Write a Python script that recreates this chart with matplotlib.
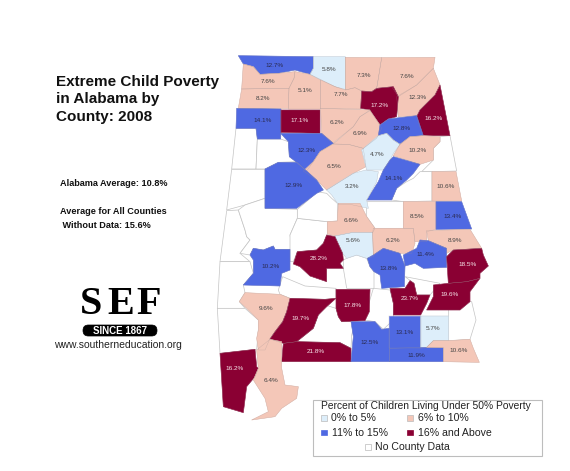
import matplotlib
matplotlib.use("Agg")
import matplotlib.pyplot as plt
from matplotlib.patches import Polygon, Rectangle, FancyBboxPatch

plt.rcParams['font.family'] = ['Liberation Sans', 'DejaVu Sans']

# ---------- data ----------
title_lines = ["Extreme Child Poverty", "in Alabama by", "County: 2008"]
state_average = "Alabama Average: 10.8%"
missing_average = ["Average for All Counties", " Without Data: 15.6%"]
legend_title = "Percent of Children Living Under 50% Poverty"
classes = ["0% to 5%", "6% to 10%", "11% to 15%", "16% and Above", "No County Data"]
class_colors = {0: "#DDEEFA", 1: "#F4C7B8", 2: "#4F69E2", 3: "#8A0033", 4: "#FFFFFF"}
county_labels = ["12.7%", "7.6%", "8.2%", "5.1%", "5.8%", "7.3%", "7.6%", "12.3%", "7.7%", "17.2%",
                 "16.2%", "14.1%", "17.1%", "6.2%", "6.9%", "12.8%", "12.3%", "6.5%", "4.7%", "10.2%",
                 "14.1%", "12.9%", "3.2%", "10.6%",
                 "8.5%", "13.4%", "6.6%", "5.6%", "6.2%", "8.9%", "11.4%", "13.8%", "18.5%", "19.6%",
                 "23.7%", "28.2%", "10.2%",
                 "9.6%", "19.7%", "17.8%", "21.8%", "12.5%", "13.1%", "5.7%", "11.9%", "10.6%", "16.2%", "6.4%"]
county_classes = [2, 1, 1, 1, 0, 1, 1, 1, 1, 3,
                  3, 2, 3, 1, 1, 2, 2, 1, 0, 1,
                  2, 2, 0, 1,
                  1, 2, 1, 0, 1, 1, 2, 2, 3, 3,
                  3, 3, 2,
                  1, 3, 3, 3, 2, 2, 0, 2, 1, 3, 1]

# ---------- map geometry (traced in three zoom frames: origin x, origin y, scale 3) ----------
FRAMES = {"a": (220, 45), "b": (220, 160), "c": (210, 270)}
county_shapes = [
 ("a", [(55,32),(280,35),(280,70),(270,88),(225,75),(175,85),(120,88),(100,65),(70,57)], (165,62)),
 ("a", [(70,57),(100,65),(120,88),(175,85),(225,80),(222,100),(207,130),(65,132)], (145,110)),
 ("a", [(65,132),(207,130),(205,190),(55,190)], (128,162)),
 ("a", [(225,80),(270,88),(302,105),(302,192),(205,192),(207,130),(222,100)], (255,138)),
 ("a", [(280,35),(376,35),(376,133),(345,125),(305,105),(270,88),(280,70)], (328,74)),
 ("a", [(376,37),(485,38),(475,100),(470,130),(455,140),(425,138),(405,128),(376,135)], (432,92)),
 ("a", [(485,38),(645,37),(640,70),(590,120),(535,155),(515,125),(470,130),(475,100)], (560,96)),
 ("a", [(640,70),(660,120),(645,150),(600,195),(590,212),(535,215),(530,155),(590,120)], (592,158)),
 ("a", [(302,105),(345,125),(376,135),(405,128),(425,138),(422,192),(302,190)], (364,150)),
 ("a", [(425,138),(455,140),(470,130),(520,125),(535,155),(530,215),(505,222),(480,240),(450,195),(422,190)], (480,182)),
 ("a", [(660,120),(690,272),(608,272),(590,215),(600,195),(645,150)], (642,222)),
 ("a", [(50,190),(183,192),(183,262),(182,282),(112,282),(108,250),(48,250)], (128,225)),
 ("a", [(183,195),(300,195),(300,265),(183,262)], (240,228)),
 ("a", [(302,190),(450,195),(420,215),(400,245),(350,285),(340,295),(305,265)], (352,231)),
 ("a", [(450,197),(480,240),(485,250),(470,280),(430,310),(385,298),(340,297),(400,245),(420,215)], (420,266)),
 ("a", [(480,240),(505,222),(590,212),(610,272),(570,275),(540,298),(520,285),(500,265),(475,272)], (545,251)),
 ("a", [(182,265),(305,265),(340,295),(300,320),(280,350),(260,378),(230,352),(208,335),(205,290)], (260,316)),
 ("a", [(340,297),(385,298),(430,310),(438,365),(400,385),(320,435),(290,405),(250,378),(280,350),(300,320)], (342,366)),
 ("a", [(475,272),(500,265),(520,285),(540,298),(520,325),(510,345),(490,375),(440,375),(425,315)], (472,330)),
 ("a", [(540,298),(570,275),(610,272),(660,275),(660,290),(640,310),(640,345),(600,358),(520,332)], (592,315)),
 ("a", [(520,335),(600,358),(580,385),(560,405),(530,430),(515,465),(440,465),(475,410),(490,375),(510,345)], (520,400)),
 ("a", [(135,372),(175,352),(230,352),(260,378),(290,405),(310,435),(290,445),(230,490),(135,490)], (222,422)),
 ("a", [(320,435),(400,385),(438,375),(475,380),(470,410),(440,465),(445,490),(390,478),(355,478),(335,450)], (396,426)),
 ("a", [(636,380),(708,380),(725,468),(636,468)], (676,425)),
 ("b", [(550,125),(648,125),(648,208),(620,215),(620,245),(585,245),(580,205),(550,205)], (592,168)),
 ("b", [(648,125),(725,125),(755,207),(648,208)], (698,168)),
 ("b", [(355,130),(420,130),(440,170),(465,205),(458,218),(395,218),(345,228),(322,222),(322,185),(352,183)], (392,180)),
 ("b", [(345,228),(395,218),(458,218),(460,290),(440,295),(410,285),(380,295),(368,280),(350,240)], (400,243)),
 ("b", [(460,205),(580,205),(585,250),(575,280),(540,280),(490,265),(460,285),(458,218)], (520,240)),
 ("b", [(620,212),(750,208),(785,265),(700,270),(680,280),(680,265),(625,242)], (704,240)),
 ("b", [(550,285),(590,265),(600,240),(625,242),(680,265),(680,322),(610,325),(585,310),(555,318)], (615,282)),
 ("b", [(442,295),(460,285),(490,265),(540,280),(555,318),(553,380),(485,385),(480,345),(462,335),(450,320)], (505,326)),
 ("b", [(700,270),(785,265),(790,285),(805,318),(780,340),(780,355),(740,365),(685,370),(680,290)], (742,314)),
 ("b", [(640,375),(685,370),(740,365),(780,355),(750,395),(750,425),(720,450),(620,450),(640,410)], (690,403)),
 ("c", [(540,55),(585,55),(600,32),(612,40),(620,75),(660,75),(650,100),(632,135),(550,135),(550,100)], (598,85)),
 ("b", [(320,225),(345,230),(368,280),(370,300),(360,310),(370,325),(320,325),(320,365),(270,348),(240,320),(220,312),(232,275),(290,270),(310,250)], (295,296)),
 ("b", [(100,265),(130,270),(160,258),(165,268),(210,268),(210,330),(185,340),(180,378),(70,375),(100,340),(100,300),(90,285)], (153,318)),
 ("c", [(105,68),(210,73),(240,85),(230,125),(218,155),(195,185),(180,205),(165,240),(145,240),(140,205),(145,180),(145,150),(110,115),(88,95)], (168,117)),
 ("c", [(240,85),(345,88),(378,85),(350,110),(325,135),(310,175),(260,215),(220,220),(180,207),(195,185),(218,155),(230,125)], (272,146)),
 ("c", [(378,58),(480,58),(478,125),(465,152),(395,155),(385,140),(378,115)], (428,107)),
 ("c", [(220,220),(260,215),(390,218),(423,235),(423,275),(215,275)], (317,245)),
 ("c", [(423,155),(495,155),(515,178),(538,175),(538,275),(423,275),(430,200)], (478,216)),
 ("c", [(538,138),(632,138),(632,235),(538,235)], (584,187)),
 ("c", [(632,138),(716,138),(716,212),(670,212),(650,232),(632,235)], (668,174)),
 ("c", [(538,235),(650,232),(700,233),(700,275),(538,275)], (618,256)),
 ("c", [(650,232),(670,212),(716,212),(780,208),(790,235),(808,277),(700,275),(700,233)], (745,240)),
 ("c", [(30,250),(135,238),(140,290),(145,295),(135,320),(110,350),(100,428),(40,410)], (75,297)),
 ("c", [(180,208),(215,215),(215,275),(215,295),(225,345),(265,350),(260,385),(215,415),(195,440),(125,450),(175,425),(165,385),(130,330),(145,295),(140,240)], (182,330)),
]
no_data_shapes = [
 ("a", [(48,250),(108,250),(112,282),(108,372),(35,372)]),
 ("a", [(112,282),(182,282),(205,290),(208,335),(230,350),(175,352),(135,372),(108,372)]),
 ("a", [(660,275),(690,272),(710,378),(636,380),(605,380),(640,345),(640,310),(660,290)]),
 ("b", [(35,28),(135,28),(135,115),(75,135),(20,150)]),
 ("b", [(20,152),(55,150),(75,210),(80,230),(90,240),(60,280),(90,305),(0,305)]),
 ("c", [(30,-25),(120,-25),(130,10),(100,45),(105,68),(88,95),(105,115),(22,115)]),
 ("b", [(75,135),(135,115),(135,145),(232,148),(232,175),(210,225),(215,260),(210,268),(165,268),(160,258),(130,270),(100,265),(90,285),(60,280),(90,240),(80,230),(75,210),(55,150)]),
 ("b", [(232,175),(322,185),(322,222),(310,250),(290,270),(232,275),(220,305),(210,305),(210,225)]),
 ("b", [(232,148),(265,120),(290,95),(320,100),(335,115),(352,130),(352,183),(322,185),(232,175)]),
 ("b", [(440,125),(550,125),(550,205),(465,205),(440,170)]),
 ("b", [(600,35),(636,35),(636,123),(550,125),(515,120),(530,85),(560,65),(580,55)]),
 ("b", [(370,300),(380,295),(410,285),(440,295),(450,320),(462,335),(462,385),(380,385),(370,325)]),
 ("c", [(22,115),(105,115),(145,150),(145,180),(140,238),(30,250)]),
 ("c", [(205,60),(218,20),(285,48),(378,55),(378,85),(345,88),(240,85),(210,73)]),
 ("c", [(345,105),(378,115),(385,140),(395,155),(425,155),(430,175),(425,195),(423,235),(390,218),(260,215),(310,175),(325,135)]),
 ("c", [(468,130),(490,55),(540,60),(550,100),(550,150),(520,178),(495,155),(465,150)]),
 ("c", [(716,138),(716,95),(785,95),(798,150),(780,208),(716,212)]),
 ("c", [(585,20),(690,40),(660,75),(620,75),(612,40)]),
]

def px(frame, pts):
    ox, oy = FRAMES[frame]
    return [(ox + x / 3, oy + y / 3) for x, y in pts]

fig = plt.figure(figsize=(5.70, 4.71), dpi=100)
ax = fig.add_axes([0, 0, 1, 1])
ax.set_xlim(0, 570)
ax.set_ylim(471, 0)
ax.axis("off")

for frame, pts in no_data_shapes:
    ax.add_patch(Polygon(px(frame, pts), closed=True, facecolor=class_colors[4],
                         edgecolor="#C4C4C4", linewidth=0.5, zorder=1))
for (frame, pts, pos), label, cls in zip(county_shapes, county_labels, county_classes):
    ax.add_patch(Polygon(px(frame, pts), closed=True, facecolor=class_colors[cls],
                         edgecolor=class_colors[cls], linewidth=0.4, zorder=2))
    ax.plot(*zip(*(px(frame, pts) + px(frame, pts[:1]))), color="#9A8F90", lw=0.25, alpha=0.5, zorder=3)
    (x, y), = px(frame, [pos])
    ax.text(x, y, label, fontsize=4.6, ha="center", va="center", zorder=4,
            color="#F6E6EA" if cls == 3 else "#2A2A50" if cls == 2 else "#444444")

# title and notes
for i, line in enumerate(title_lines):
    ax.text(56, 82 + i * 17.5, line, fontsize=11, fontweight="bold", color="#111111", ha="left", va="center")
ax.text(60, 183, state_average, fontsize=6.6, fontweight="bold", color="#111111", va="center")
ax.text(60, 212, missing_average[0], fontsize=6.6, fontweight="bold", color="#111111", va="center")
ax.text(60, 225.5, missing_average[1], fontsize=6.6, fontweight="bold", color="#111111", va="center")

# logo
for letter, x in zip("SEF", (91.5, 120.5, 148.5)):
    ax.text(x, 304, letter, fontsize=29, fontweight="bold", family="Liberation Serif",
            ha="center", va="center", color="black")
ax.add_patch(FancyBboxPatch((83, 325), 74, 11, boxstyle="round,pad=0,rounding_size=5.4",
                            facecolor="black", edgecolor="black", lw=0.5))
ax.text(120, 330.7, "SINCE 1867", fontsize=7, fontweight="bold", color="white", ha="center", va="center")
ax.text(117.5, 345, "www.southerneducation.org", fontsize=7.45, color="#222222", ha="center", va="center")

# legend
ax.add_patch(Rectangle((313, 399.5), 229, 56.5, facecolor="white", edgecolor="#BDBDBD", lw=0.8, zorder=5))
ax.text(321, 406, legend_title, fontsize=7.35, color="#222222", va="center", zorder=6)
legend_pos = [(321, 418, 331), (407, 418, 418), (321, 432.5, 332), (407, 432.5, 418), (365, 447, 375)]
for i, (lbl, (sx, sy, tx)) in enumerate(zip(classes, legend_pos)):
    ax.add_patch(Rectangle((sx, sy - 2.8), 5.6, 5.6, facecolor=class_colors[i],
                           edgecolor="#BBBBBB" if i in (0, 1, 4) else class_colors[i], lw=0.5, zorder=6))
    ax.text(tx, sy, lbl, fontsize=7.6, color="#222222", va="center", zorder=6)

fig.savefig("out.png", dpi=100, facecolor="white")
